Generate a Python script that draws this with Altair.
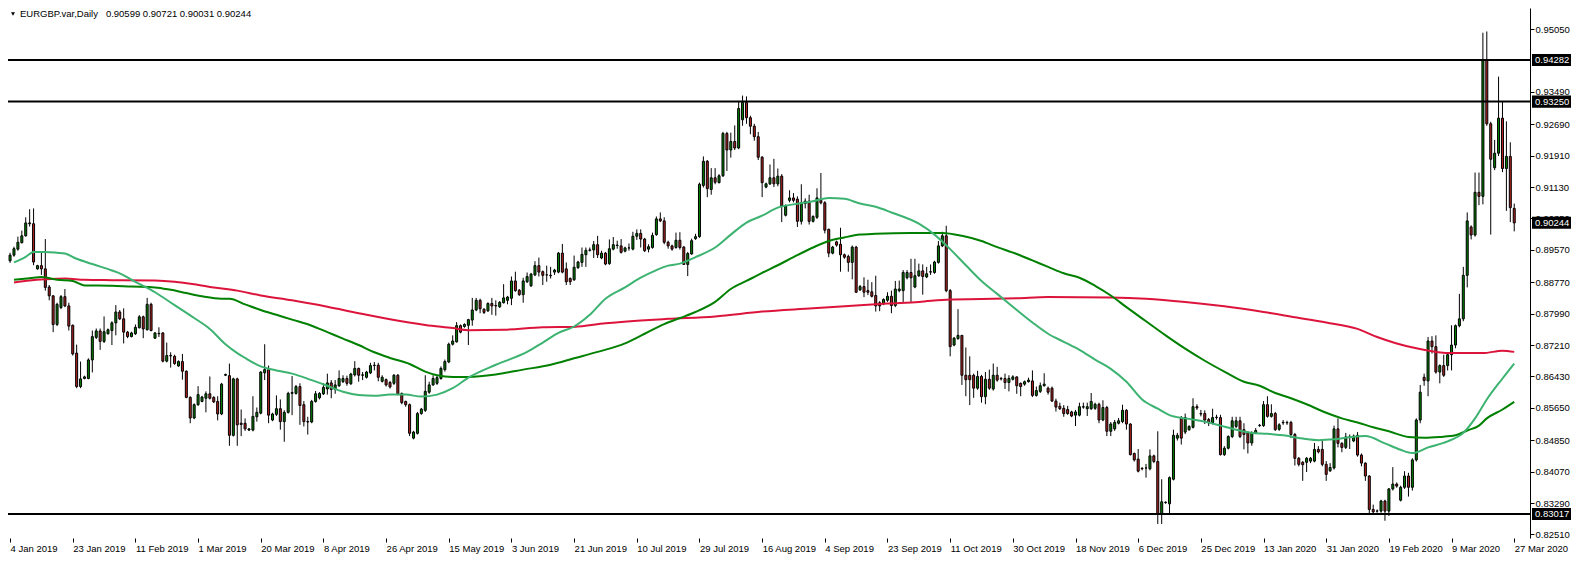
import altair as alt
import pandas as pd

# ---------------- DATA (prices in units of 0.0001) ----------------
open_x1e4 = [
    8930, 8944, 8959, 8975, 8992, 9022, 9022, 8910, 8918, 8910,
    8865, 8843, 8772, 8814, 8841, 8818, 8770, 8701, 8618, 8638,
    8638, 8684, 8740, 8756, 8730, 8749, 8757, 8776, 8803, 8786,
    8753, 8742, 8749, 8764, 8791, 8759, 8822, 8738, 8749, 8751,
    8681, 8695, 8693, 8669, 8680, 8656, 8591, 8540, 8573, 8581,
    8589, 8600, 8591, 8581, 8550, 8646, 8645, 8497, 8637, 8527,
    8527, 8510, 8510, 8543, 8552, 8652, 8660, 8535, 8549, 8563,
    8531, 8554, 8601, 8601, 8618, 8573, 8531, 8530, 8581, 8590,
    8600, 8612, 8627, 8611, 8620, 8630, 8638, 8625, 8647, 8663,
    8646, 8641, 8652, 8670, 8671, 8631, 8635, 8628, 8626, 8646,
    8601, 8581, 8573, 8490, 8502, 8551, 8559, 8604, 8622, 8626,
    8638, 8660, 8679, 8723, 8729, 8769, 8767, 8770, 8783, 8808,
    8832, 8810, 8806, 8824, 8819, 8816, 8826, 8832, 8837, 8880,
    8857, 8846, 8878, 8868, 8895, 8918, 8903, 8895, 8894, 8902,
    8902, 8949, 8910, 8886, 8883, 8913, 8926, 8945, 8956, 8957,
    8970, 8937, 8949, 8923, 8959, 8968, 8967, 8954, 8962, 8959,
    8991, 8998, 8984, 8959, 8963, 8995, 9034, 9029, 8976, 8967,
    8963, 8981, 8964, 8921, 8947, 8985, 8990, 9117, 9177, 9107,
    9136, 9124, 9141, 9246, 9205, 9226, 9210, 9280, 9323, 9285,
    9264, 9238, 9187, 9113, 9121, 9136, 9121, 9140, 9043, 9080,
    9086, 9083, 9028, 9072, 9078, 9028, 9038, 9080, 9074, 9008,
    8949, 8977, 8971, 8945, 8941, 8926, 8964, 8858, 8866, 8856,
    8853, 8844, 8826, 8823, 8832, 8842, 8819, 8856, 8856, 8888,
    8901, 8865, 8893, 8905, 8890, 8902, 8901, 8926, 8967, 8992,
    8856, 8721, 8737, 8745, 8646, 8646, 8646, 8614, 8643, 8593,
    8636, 8612, 8646, 8638, 8638, 8628, 8636, 8642, 8626, 8624,
    8630, 8632, 8596, 8606, 8620, 8614, 8614, 8582, 8569, 8564,
    8561, 8555, 8547, 8547, 8567, 8563, 8563, 8564, 8574, 8535,
    8566, 8507, 8513, 8527, 8531, 8559, 8525, 8452, 8438, 8415,
    8416, 8414, 8446, 8432, 8301, 8330, 8327, 8388, 8490, 8541,
    8505, 8511, 8517, 8568, 8551, 8551, 8536, 8528, 8541, 8541,
    8449, 8465, 8494, 8519, 8533, 8511, 8503, 8478, 8503, 8521,
    8521, 8573, 8544, 8551, 8512, 8528, 8528, 8529, 8499, 8440,
    8430, 8430, 8433, 8433, 8462, 8462, 8425, 8409, 8416, 8513,
    8477, 8467, 8492, 8483, 8497, 8448, 8428, 8396, 8313, 8309,
    8309, 8334, 8309, 8364, 8376, 8336, 8368, 8396, 8368, 8436,
    8535, 8641, 8632, 8731, 8717, 8654, 8670, 8670, 8697, 8721,
    8769, 8786, 8894, 9014, 8994, 9100, 9090, 9428, 9270, 9161,
    9197, 9284, 9159, 9189, 9060,
]
high_x1e4 = [
    8950, 8965, 8990, 9005, 9038, 9058, 9060, 8920, 8951, 8984,
    8870, 8845, 8826, 8845, 8860, 8826, 8772, 8722, 8680, 8645,
    8688, 8757, 8762, 8762, 8792, 8762, 8780, 8820, 8808, 8812,
    8756, 8754, 8772, 8795, 8794, 8838, 8826, 8753, 8765, 8753,
    8727, 8703, 8697, 8683, 8699, 8658, 8594, 8576, 8619, 8595,
    8606, 8643, 8594, 8594, 8627, 8650, 8675, 8640, 8640, 8561,
    8539, 8515, 8594, 8566, 8656, 8723, 8670, 8553, 8596, 8586,
    8559, 8605, 8644, 8622, 8626, 8582, 8543, 8585, 8607, 8604,
    8626, 8650, 8634, 8634, 8658, 8646, 8645, 8652, 8681, 8665,
    8654, 8657, 8677, 8679, 8677, 8646, 8638, 8632, 8649, 8649,
    8603, 8583, 8576, 8508, 8555, 8565, 8646, 8630, 8646, 8645,
    8668, 8685, 8727, 8745, 8778, 8772, 8775, 8786, 8838, 8838,
    8836, 8812, 8827, 8838, 8832, 8830, 8872, 8843, 8891, 8903,
    8860, 8888, 8901, 8900, 8929, 8938, 8906, 8918, 8915, 8910,
    8952, 8972, 8926, 8889, 8943, 8930, 8963, 8963, 8963, 8979,
    8992, 8955, 8952, 8983, 8989, 8980, 8984, 8965, 8973, 9002,
    9008, 9008, 8987, 8971, 9000, 9040, 9050, 9038, 8980, 8970,
    9000, 9001, 8967, 8952, 8985, 8997, 9124, 9189, 9180, 9160,
    9160, 9145, 9250, 9250, 9248, 9266, 9326, 9340, 9338, 9290,
    9270, 9250, 9190, 9124, 9169, 9183, 9159, 9145, 9070, 9105,
    9098, 9090, 9120, 9085, 9094, 9043, 9110, 9148, 9078, 9010,
    8967, 8980, 9012, 8948, 8945, 8968, 8967, 8870, 8889, 8883,
    8877, 8893, 8830, 8837, 8852, 8856, 8880, 8881, 8907, 8907,
    8935, 8935, 8923, 8921, 8915, 8921, 8930, 8979, 9002, 9017,
    8860, 8741, 8810, 8745, 8715, 8693, 8650, 8657, 8647, 8654,
    8660, 8675, 8667, 8642, 8650, 8646, 8646, 8643, 8628, 8633,
    8640, 8658, 8618, 8628, 8651, 8618, 8618, 8588, 8578, 8572,
    8570, 8558, 8560, 8578, 8578, 8578, 8602, 8578, 8578, 8584,
    8570, 8530, 8535, 8540, 8573, 8562, 8527, 8454, 8463, 8418,
    8426, 8462, 8449, 8507, 8388, 8333, 8395, 8511, 8503, 8545,
    8551, 8522, 8589, 8574, 8560, 8559, 8540, 8563, 8548, 8548,
    8470, 8497, 8543, 8543, 8543, 8527, 8507, 8507, 8515, 8525,
    8582, 8594, 8574, 8555, 8527, 8535, 8533, 8533, 8503, 8443,
    8433, 8443, 8443, 8478, 8470, 8483, 8433, 8428, 8521, 8539,
    8480, 8503, 8499, 8499, 8505, 8452, 8430, 8398, 8325, 8313,
    8337, 8337, 8366, 8418, 8380, 8372, 8408, 8404, 8440, 8539,
    8622, 8650, 8741, 8743, 8745, 8673, 8697, 8700, 8770, 8772,
    8848, 8915, 9050, 9018, 9149, 9149, 9496, 9499, 9275, 9230,
    9387, 9326, 9276, 9224, 9072,
]
low_x1e4 = [
    8925, 8940, 8955, 8973, 8990, 9015, 8919, 8908, 8895, 8856,
    8832, 8753, 8768, 8810, 8815, 8757, 8695, 8614, 8614, 8636,
    8636, 8653, 8736, 8709, 8726, 8747, 8721, 8745, 8783, 8725,
    8738, 8740, 8746, 8762, 8738, 8757, 8755, 8736, 8741, 8678,
    8678, 8665, 8672, 8667, 8635, 8589, 8527, 8537, 8570, 8579,
    8554, 8586, 8577, 8534, 8547, 8644, 8471, 8494, 8471, 8495,
    8508, 8508, 8507, 8531, 8549, 8634, 8527, 8532, 8545, 8511,
    8481, 8551, 8547, 8598, 8523, 8519, 8499, 8527, 8578, 8586,
    8597, 8598, 8589, 8600, 8617, 8627, 8620, 8622, 8643, 8630,
    8634, 8638, 8649, 8658, 8631, 8628, 8618, 8613, 8622, 8596,
    8574, 8568, 8495, 8487, 8499, 8548, 8555, 8600, 8620, 8622,
    8635, 8655, 8676, 8720, 8727, 8750, 8764, 8721, 8769, 8805,
    8800, 8798, 8803, 8796, 8794, 8813, 8824, 8822, 8820, 8853,
    8843, 8826, 8875, 8865, 8892, 8891, 8870, 8878, 8886, 8895,
    8899, 8899, 8870, 8870, 8880, 8910, 8915, 8915, 8953, 8937,
    8937, 8934, 8919, 8920, 8956, 8960, 8948, 8951, 8955, 8956,
    8982, 8963, 8952, 8951, 8960, 8992, 9026, 8971, 8960, 8955,
    8960, 8958, 8920, 8892, 8945, 8982, 8987, 9112, 9088, 9094,
    9120, 9122, 9138, 9153, 9186, 9205, 9207, 9265, 9270, 9244,
    9228, 9180, 9088, 9110, 9118, 9113, 9115, 9026, 9040, 9075,
    9075, 9014, 9020, 9060, 9020, 9025, 9034, 9070, 8998, 8939,
    8946, 8965, 8903, 8935, 8903, 8884, 8850, 8855, 8840, 8845,
    8839, 8804, 8805, 8820, 8828, 8800, 8815, 8852, 8828, 8884,
    8828, 8862, 8890, 8846, 8887, 8895, 8898, 8923, 8964, 8852,
    8693, 8718, 8734, 8622, 8594, 8572, 8590, 8610, 8578, 8574,
    8610, 8608, 8630, 8633, 8612, 8606, 8633, 8600, 8594, 8620,
    8628, 8592, 8593, 8602, 8618, 8598, 8580, 8556, 8560, 8543,
    8548, 8542, 8520, 8544, 8563, 8545, 8560, 8560, 8527, 8532,
    8495, 8495, 8508, 8524, 8527, 8511, 8447, 8432, 8405, 8410,
    8392, 8410, 8428, 8277, 8277, 8327, 8304, 8385, 8484, 8474,
    8500, 8508, 8514, 8560, 8544, 8525, 8520, 8524, 8536, 8447,
    8446, 8462, 8490, 8515, 8490, 8462, 8452, 8471, 8500, 8518,
    8518, 8541, 8541, 8508, 8508, 8523, 8523, 8490, 8422, 8420,
    8384, 8406, 8428, 8430, 8452, 8420, 8384, 8406, 8412, 8467,
    8455, 8463, 8463, 8480, 8444, 8420, 8384, 8301, 8300, 8305,
    8305, 8285, 8297, 8360, 8367, 8333, 8364, 8345, 8360, 8432,
    8527, 8620, 8594, 8700, 8650, 8626, 8642, 8658, 8658, 8713,
    8765, 8780, 8864, 8983, 8990, 9068, 9070, 9265, 8995, 9155,
    9190, 9150, 9054, 9026, 9003,
]
close_x1e4 = [
    8944, 8960, 8976, 8992, 9024, 9024, 8927, 8918, 8910, 8864,
    8843, 8772, 8822, 8841, 8818, 8768, 8699, 8618, 8637, 8642,
    8684, 8742, 8756, 8730, 8754, 8759, 8776, 8803, 8786, 8753,
    8742, 8751, 8765, 8791, 8761, 8822, 8757, 8751, 8750, 8681,
    8695, 8694, 8675, 8680, 8656, 8591, 8540, 8573, 8598, 8592,
    8600, 8589, 8580, 8550, 8624, 8648, 8497, 8637, 8523, 8524,
    8513, 8513, 8544, 8554, 8654, 8660, 8547, 8550, 8563, 8531,
    8554, 8601, 8603, 8618, 8571, 8531, 8530, 8581, 8600, 8601,
    8616, 8627, 8611, 8622, 8638, 8638, 8626, 8649, 8663, 8646,
    8647, 8654, 8670, 8671, 8641, 8641, 8622, 8617, 8646, 8600,
    8578, 8573, 8502, 8505, 8551, 8562, 8606, 8622, 8638, 8640,
    8663, 8680, 8723, 8731, 8769, 8753, 8772, 8784, 8808, 8832,
    8811, 8802, 8824, 8818, 8818, 8827, 8838, 8840, 8880, 8856,
    8846, 8880, 8891, 8897, 8918, 8902, 8894, 8895, 8893, 8907,
    8949, 8902, 8878, 8878, 8914, 8927, 8946, 8956, 8957, 8970,
    8945, 8949, 8922, 8960, 8970, 8969, 8951, 8962, 8962, 8991,
    8998, 8984, 8955, 8965, 8993, 9034, 9029, 8976, 8967, 8959,
    8981, 8963, 8921, 8948, 8980, 8990, 9120, 9177, 9109, 9136,
    9125, 9141, 9246, 9205, 9226, 9210, 9308, 9323, 9285, 9264,
    9238, 9187, 9124, 9121, 9136, 9121, 9140, 9066, 9066, 9086,
    9080, 9028, 9074, 9078, 9028, 9040, 9086, 9074, 9006, 8949,
    8964, 8969, 8945, 8939, 8926, 8964, 8852, 8866, 8852, 8852,
    8842, 8818, 8818, 8834, 8842, 8819, 8860, 8860, 8901, 8901,
    8888, 8893, 8905, 8891, 8898, 8903, 8927, 8967, 8992, 8856,
    8717, 8738, 8745, 8646, 8635, 8635, 8614, 8643, 8593, 8636,
    8614, 8646, 8634, 8637, 8628, 8638, 8642, 8620, 8618, 8630,
    8634, 8596, 8608, 8620, 8624, 8604, 8582, 8567, 8563, 8551,
    8551, 8545, 8555, 8568, 8568, 8568, 8581, 8574, 8535, 8566,
    8507, 8525, 8529, 8533, 8559, 8525, 8449, 8436, 8408, 8414,
    8416, 8446, 8432, 8301, 8332, 8331, 8392, 8497, 8497, 8490,
    8541, 8519, 8568, 8565, 8550, 8535, 8528, 8541, 8542, 8449,
    8465, 8494, 8533, 8533, 8494, 8499, 8478, 8503, 8509, 8522,
    8573, 8544, 8551, 8511, 8523, 8529, 8529, 8499, 8440, 8425,
    8424, 8440, 8440, 8462, 8456, 8425, 8400, 8417, 8513, 8477,
    8467, 8493, 8493, 8495, 8448, 8428, 8396, 8313, 8307, 8309,
    8334, 8309, 8364, 8376, 8371, 8368, 8396, 8368, 8436, 8535,
    8604, 8633, 8731, 8717, 8654, 8670, 8646, 8697, 8721, 8769,
    8786, 8894, 9029, 8994, 9100, 9090, 9428, 9270, 9182, 9197,
    9284, 9159, 9189, 9062, 9024,
]

# moving averages (bar index, value x1e4)
ma_fast_idx = [1, 4, 6, 9, 12, 14, 17, 21, 26, 28, 31, 34, 37, 42, 47, 51, 55, 58, 60, 64, 68, 72, 77,
               81, 85, 89, 93, 97, 101, 105, 109, 113, 117, 124, 132, 136, 140, 144, 148, 152, 157, 161,
               165, 168, 171, 175, 180, 184, 188, 192, 196, 200, 205, 209, 213, 217, 221, 225, 232, 236,
               240, 244, 248, 252, 257, 261, 265, 269, 273, 277, 281, 285, 289, 293, 296, 300, 305, 309,
               313, 317, 321, 325, 330, 334, 338, 342, 346, 351, 355, 358, 362, 367, 371, 374, 377, 381, 384]
ma_fast_val = [8926, 8940, 8952, 8952, 8950, 8948, 8935, 8922, 8906, 8899, 8883, 8868, 8852, 8820, 8788,
               8761, 8723, 8701, 8689, 8668, 8658, 8650, 8634, 8620, 8605, 8597, 8595, 8598, 8598, 8593,
               8598, 8614, 8640, 8672, 8704, 8727, 8751, 8767, 8796, 8836, 8864, 8888, 8907, 8918, 8923,
               8939, 8963, 8995, 9025, 9042, 9062, 9070, 9078, 9086, 9084, 9072, 9064, 9050, 9022, 8995,
               8959, 8919, 8880, 8848, 8808, 8777, 8749, 8729, 8709, 8685, 8662, 8630, 8586, 8563, 8547,
               8539, 8531, 8521, 8511, 8503, 8501, 8497, 8489, 8485, 8487, 8492, 8495, 8477, 8461, 8453,
               8467, 8482, 8503, 8539, 8586, 8638, 8675]
ma_mid_idx = [1, 5, 8, 12, 16, 19, 26, 31, 37, 41, 45, 49, 54, 56, 60, 64, 68, 72, 77, 81, 85, 89, 93, 97,
              102, 106, 109, 113, 117, 124, 131, 138, 144, 150, 157, 162, 167, 171, 175, 180, 184, 188,
              192, 196, 200, 205, 209, 213, 217, 221, 230, 238, 243, 248, 252, 257, 261, 265, 269, 273,
              277, 281, 285, 290, 295, 300, 305, 310, 315, 319, 323, 327, 331, 336, 340, 344, 348, 352,
              357, 361, 365, 369, 372, 375, 377, 381, 384]
ma_mid_val = [8883, 8887, 8890, 8883, 8880, 8869, 8868, 8866, 8864, 8858, 8850, 8842, 8836, 8836, 8822,
              8808, 8796, 8784, 8769, 8753, 8737, 8721, 8703, 8689, 8674, 8655, 8646, 8642, 8642, 8648,
              8660, 8672, 8688, 8704, 8725, 8749, 8773, 8788, 8803, 8828, 8860, 8880, 8900, 8919, 8939,
              8963, 8979, 8988, 8995, 8997, 8999, 8999, 8992, 8979, 8964, 8947, 8931, 8915, 8899, 8888,
              8868, 8844, 8815, 8780, 8745, 8712, 8682, 8655, 8630, 8620, 8602, 8589, 8574, 8553, 8539,
              8529, 8517, 8507, 8493, 8491, 8493, 8497, 8509, 8521, 8539, 8561, 8580]
ma_slow_idx = [1, 5, 9, 14, 19, 26, 37, 42, 47, 52, 58, 64, 72, 81, 89, 97, 106, 113, 117, 126, 136, 144,
               152, 161, 168, 180, 192, 205, 217, 224, 232, 240, 248, 257, 265, 281, 290, 300, 310, 320,
               328, 336, 344, 349, 354, 359, 364, 369, 376, 381, 384]
ma_slow_val = [8876, 8881, 8884, 8886, 8883, 8882, 8881, 8878, 8872, 8864, 8856, 8844, 8832, 8816, 8800,
               8785, 8771, 8763, 8758, 8759, 8765, 8766, 8775, 8782, 8786, 8792, 8804, 8812, 8820, 8824,
               8828, 8834, 8835, 8837, 8840, 8839, 8836, 8828, 8817, 8803, 8790, 8777, 8761, 8741, 8725,
               8713, 8704, 8701, 8701, 8707, 8704]

x_tick_labels = ["4 Jan 2019", "23 Jan 2019", "11 Feb 2019", "1 Mar 2019", "20 Mar 2019", "8 Apr 2019",
                 "26 Apr 2019", "15 May 2019", "3 Jun 2019", "21 Jun 2019", "10 Jul 2019", "29 Jul 2019",
                 "16 Aug 2019", "4 Sep 2019", "23 Sep 2019", "11 Oct 2019", "30 Oct 2019", "18 Nov 2019",
                 "6 Dec 2019", "25 Dec 2019", "13 Jan 2020", "31 Jan 2020", "19 Feb 2020", "9 Mar 2020",
                 "27 Mar 2020"]
y_tick_values = [0.95050, 0.93490, 0.92690, 0.91910, 0.91130, 0.90350, 0.89570, 0.88770, 0.87990,
                 0.87210, 0.86430, 0.85650, 0.84850, 0.84070, 0.83290, 0.82510]
level_lines = [0.94282, 0.93250, 0.83017]
last_price = [0.90244]
symbol_name = "EURGBP.var,Daily"
header_ohlc = [0.90599, 0.90721, 0.90031, 0.90244]

# ---------------- CHART ----------------
W, H = 1522, 530
FONT = "Liberation Sans"
FS = 9.5
BULL, BEAR = "#008000", "#B22222"

n = len(close_x1e4)
candles = pd.DataFrame({
    "idx": list(range(n)),
    "open": [v / 1e4 for v in open_x1e4],
    "high": [v / 1e4 for v in high_x1e4],
    "low": [v / 1e4 for v in low_x1e4],
    "close": [v / 1e4 for v in close_x1e4],
})
candles["dir"] = ["up" if c >= o else "down" for o, c in zip(candles["open"], candles["close"])]

x_scale = alt.Scale(domain=[0.75, 386.75], nice=False, zero=False)
y_scale = alt.Scale(domain=[0.82422, 0.95573], nice=False, zero=False)

label_js = "[" + ",".join("'%s'" % s for s in x_tick_labels) + "]"
x_axis = alt.Axis(values=[16 * k for k in range(len(x_tick_labels))],
                  labelExpr=label_js + "[round(datum.value / 16)]",
                  orient="bottom", domain=False, grid=False, ticks=True, tickSize=4,
                  tickColor="black", labelAlign="left", labelBaseline="top", labelPadding=1,
                  labelFont=FONT, labelFontSize=FS, labelColor="black",
                  labelOverlap=False, labelFlush=False, title="")
y_axis = alt.Axis(values=y_tick_values, format=".5f", orient="right", grid=False,
                  domain=True, domainColor="black", domainWidth=1, ticks=True, tickSize=4,
                  tickColor="black", labelPadding=1, labelFont=FONT, labelFontSize=FS,
                  labelColor="black", labelOverlap=False, labelFlush=False, title="")


def X(field):
    return alt.X(field, scale=x_scale, axis=x_axis)


def Y(field):
    return alt.Y(field, scale=y_scale, axis=y_axis)


wicks = alt.Chart(candles).mark_rule(color="black", strokeWidth=1).encode(
    x=X("idx:Q"), y=Y("low:Q"), y2="high:Q",
)
bodies = alt.Chart(candles).mark_bar(size=2, stroke="black", strokeWidth=1).encode(
    x=X("idx:Q"), y=Y("open:Q"), y2="close:Q",
    color=alt.Color("dir:N", scale=alt.Scale(domain=["up", "down"], range=[BULL, BEAR]), legend=None),
)


def ma_layer(idx, vals, color):
    d = pd.DataFrame({"idx": idx, "val": [v / 1e4 for v in vals]})
    return alt.Chart(d).mark_line(color=color, strokeWidth=2, interpolate="monotone").encode(
        x=X("idx:Q"), y=Y("val:Q"), order="idx:Q",
    )


ma_slow = ma_layer(ma_slow_idx, ma_slow_val, "#DC143C")
ma_mid = ma_layer(ma_mid_idx, ma_mid_val, "#008000")
ma_fast = ma_layer(ma_fast_idx, ma_fast_val, "#3CB371")

levels = alt.Chart(pd.DataFrame({"level": level_lines})).mark_rule(color="black", strokeWidth=2).encode(
    y=Y("level:Q")
)

box_df = pd.DataFrame({"price": level_lines + last_price})
boxes = alt.Chart(box_df).transform_calculate(
    top="datum.price + 0.0015", bot="datum.price - 0.0015"
).mark_rect(color="black").encode(
    x=alt.value(W + 2), x2=alt.value(W + 41),
    y=Y("top:Q"), y2="bot:Q",
)
box_text = alt.Chart(box_df).mark_text(
    align="left", baseline="middle", color="white", font=FONT, fontSize=FS
).encode(
    x=alt.value(W + 5),
    y=Y("price:Q"),
    text=alt.Text("price:Q", format=".5f"),
)

hdr = pd.DataFrame({"t": [symbol_name + "\u00a0\u00a0\u00a0" + " ".join("%.5f" % v for v in header_ohlc)]})
header = alt.Chart(hdr).mark_text(
    align="left", baseline="middle", font=FONT, fontSize=FS, color="black"
).encode(x=alt.value(12), y=alt.value(6), text="t:N")
tri = alt.Chart(hdr).mark_point(shape="triangle-down", filled=True, color="black", size=16, opacity=1).encode(
    x=alt.value(5), y=alt.value(6)
)

chart = alt.layer(
    wicks, bodies, ma_slow, ma_mid, ma_fast, levels, boxes, box_text, header, tri
).properties(
    width=W, height=H,
    autosize=alt.AutoSizeParams(type="none"),
    padding={"left": 0, "top": 0, "right": 44, "bottom": 18},
).configure(background="white").configure_view(strokeWidth=0)

chart.save("out.html", embed_options={"renderer": "svg", "actions": False})
